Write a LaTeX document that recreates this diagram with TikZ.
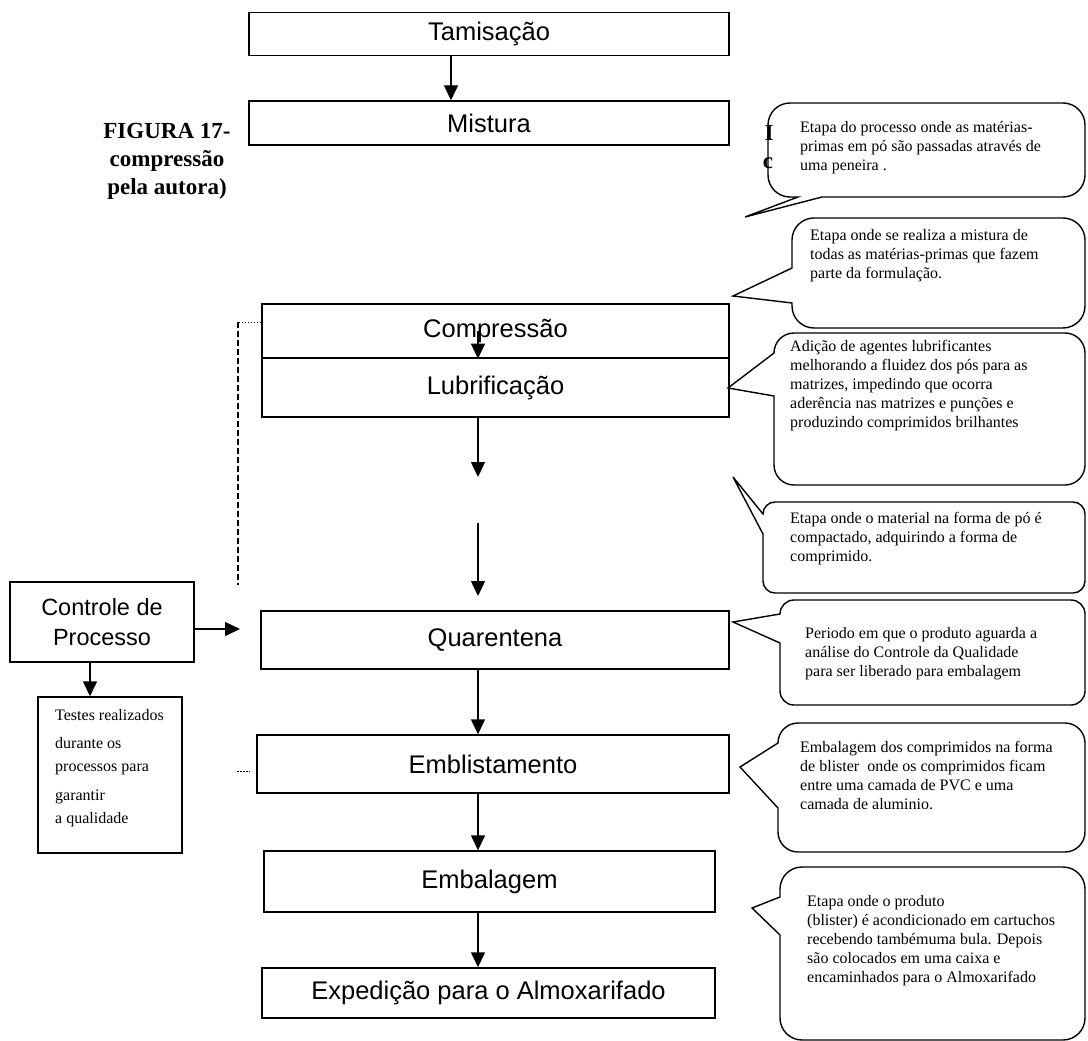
\documentclass[tikz,border=0pt]{standalone}
\usepackage{fontspec}
\setmainfont{Liberation Serif}
\newfontfamily\labelsans{Liberation Sans}
\usetikzlibrary{arrows.meta,calc}

\def\bubr{22}
% speech bubble with a wedge on its left side:
% #1,#2 top-left corner, #3,#4 bottom-right corner, #5,#6 tip, #7,#8 wedge base (y on the left edge)
\newcommand\bubbleL[8]{%
  \draw[bubble] (#1,#8) -- (#5,#6) -- (#1,#7) -- (#1,#2+\bubr)
    arc[start angle=180,end angle=270,radius=\bubr] -- (#3-\bubr,#2)
    arc[start angle=270,end angle=360,radius=\bubr] -- (#3,#4-\bubr)
    arc[start angle=0,end angle=90,radius=\bubr] -- (#1+\bubr,#4)
    arc[start angle=90,end angle=180,radius=\bubr] -- cycle;}

\begin{document}
\begin{tikzpicture}[x=1pt,y=-1pt,
  stage/.style={draw,line width=1.4pt,inner sep=0pt,font=\labelsans\fontsize{25.5}{30}\selectfont},
  flow/.style={line width=1.4pt,-{Triangle[width=14pt,length=15pt]}},
  bubble/.style={draw,line width=1.4pt,fill=white,line join=miter},
  note/.style={anchor=north west,inner sep=0pt,align=left,font=\fontsize{16}{19}\selectfont},
  caption/.style={font=\bfseries\fontsize{23}{28}\selectfont},
]
\useasboundingbox (0,0) rectangle (1088,1041);
\fill[white] (0,0) rectangle (1088,1041);
\clip (0,0) rectangle (1088,1041);

% guide columns for the connectors
\coordinate (spine) at (478,0);
\coordinate (side) at (451,0);
\coordinate (tcol) at (90,0);

% process stages
\node[stage,minimum width=480pt,minimum height=43pt] (tam) at (489,34) {Tamisação};
\node[stage,minimum width=480pt,minimum height=44pt] (mis) at (489,123) {Mistura};
\node[stage,minimum width=467pt,minimum height=54pt] (comp) at (495.5,331) {Compressão};
\node[stage,minimum width=467pt,minimum height=59pt] (lub) at (495.5,387.5) {Lubrificação};
\node[stage,minimum width=468pt,minimum height=58pt] (quar) at (495,640) {Quarentena};
\node[stage,minimum width=472pt,minimum height=58pt] (embl) at (493,764) {Emblistamento};
\node[stage,minimum width=451pt,minimum height=61pt] (emb) at (489.5,881.5) {Embalagem};
\node[stage,minimum width=453pt,minimum height=50pt] (exped) at (488.5,993) {Expedição para o Almoxarifado};

% process control
\node[stage,minimum width=184pt,minimum height=80pt,align=center,
      font=\labelsans\fontsize{23.5}{30}\selectfont] (ctrl) at (102,622) {Controle de\\Processo};
\node[draw,line width=1.4pt,minimum width=144pt,minimum height=156pt] (testes) at (110,775) {};
\node[note,font=\fontsize{16}{23}\selectfont] (testestxt) at (55,709)
  {Testes realizados\\[5pt]durante os\\processos para\\[6pt]garantir\\a qualidade};

% connectors
\draw[flow] (tam.south -| side) -- (mis.north -| side);
\draw[flow] (comp.center -| spine) -- (comp.south -| spine);
\coordinate (gapA) at (478,477);
\draw[flow] (lub.south -| spine) -- (gapA);
\coordinate (gapB) at (478,523);
\coordinate (gapC) at (478,596);
\draw[flow] (gapB) -- (gapC);
\draw[flow] (quar.south -| spine) -- (embl.north -| spine);
\draw[flow] (embl.south -| spine) -- (emb.north -| spine);
\draw[flow] (emb.south -| spine) -- (exped.north -| spine);
\coordinate (ctrlTip) at (240,629);
\draw[flow] (ctrl.east |- ctrlTip) -- (ctrlTip);
\draw[flow] (ctrl.south -| tcol) -- (testes.north -| tcol);

% control link to compression
\coordinate (dashTop) at (238,322);
\coordinate (dashEnd) at (238,585);
\draw[line width=1pt,dash pattern=on 1.5pt off 1.5pt] (comp.west |- dashTop) -- (dashTop);
\draw[line width=1.2pt,dash pattern=on 6pt off 3pt] (dashTop) -- (dashEnd);
\coordinate (dotsA) at (237,771);
\coordinate (dotsB) at (250,771);
\draw[line width=1pt,dash pattern=on 1.5pt off 1.5pt] (dotsA) -- (dotsB);

% caption
\node[caption,align=center] (fig) at (167,161) {FIGURA 17-\\compressão\\pela autora)};

% explanatory bubbles
\def\bubr{22}
\draw[bubble] (798,197) -- (745,217) -- (822,197) -- (1085-\bubr,197)
  arc[start angle=90,end angle=0,radius=\bubr] -- (1085,103+\bubr)
  arc[start angle=0,end angle=-90,radius=\bubr] -- (768+\bubr,103)
  arc[start angle=270,end angle=180,radius=\bubr] -- (768,197-\bubr)
  arc[start angle=180,end angle=90,radius=\bubr] -- cycle;
\node[caption,anchor=base] (fragI) at (769,140.5) {I};
\node[caption,anchor=base] (fragC) at (768,168.5) {c};
\bubbleL{792}{218}{1085}{328}{733}{296}{268}{303}
\def\bubr{20}
\bubbleL{774}{333}{1085}{485}{728}{388}{353}{396}
\def\bubr{12}
\bubbleL{763}{502}{1085}{593}{733}{477}{514}{534}
\def\bubr{14}
\bubbleL{780}{600}{1085}{705}{733}{622}{614}{643}
\def\bubr{20}
\bubbleL{778}{723}{1085}{852}{740}{767}{743}{808}
\def\bubr{22}
\bubbleL{780}{867}{1085}{1040}{752}{908}{897}{935}

\node[note] (t1) at (800,121) {Etapa do processo onde as matérias-\\primas em pó são passadas através de\\uma peneira .};
\node[note] (t2) at (810,229.5) {Etapa onde se realiza a mistura de\\todas as matérias-primas que fazem\\parte da formulação.};
\node[note] (t3) at (790,340.5) {Adição de agentes lubrificantes\\melhorando a fluidez dos pós para as\\matrizes, impedindo que ocorra\\aderência nas matrizes e punções e\\produzindo comprimidos brilhantes};
\node[note] (t4) at (790,512.5) {Etapa onde o material na forma de pó é\\compactado, adquirindo a forma de\\comprimido.};
\node[note] (t5) at (805,627.5) {Periodo em que o produto aguarda a\\análise do Controle da Qualidade\\para ser liberado para embalagem};
\node[note] (t6) at (800,741.5) {Embalagem dos comprimidos na forma\\de blister\ \ onde os comprimidos ficam\\entre uma camada de PVC e uma\\camada de aluminio.};
\node[note] (t7) at (807,895.5) {Etapa onde o produto\\(blister) é acondicionado em cartuchos\\recebendo tambémuma bula. Depois\\são colocados em uma caixa e\\encaminhados para o Almoxarifado};
\end{tikzpicture}
\end{document}
